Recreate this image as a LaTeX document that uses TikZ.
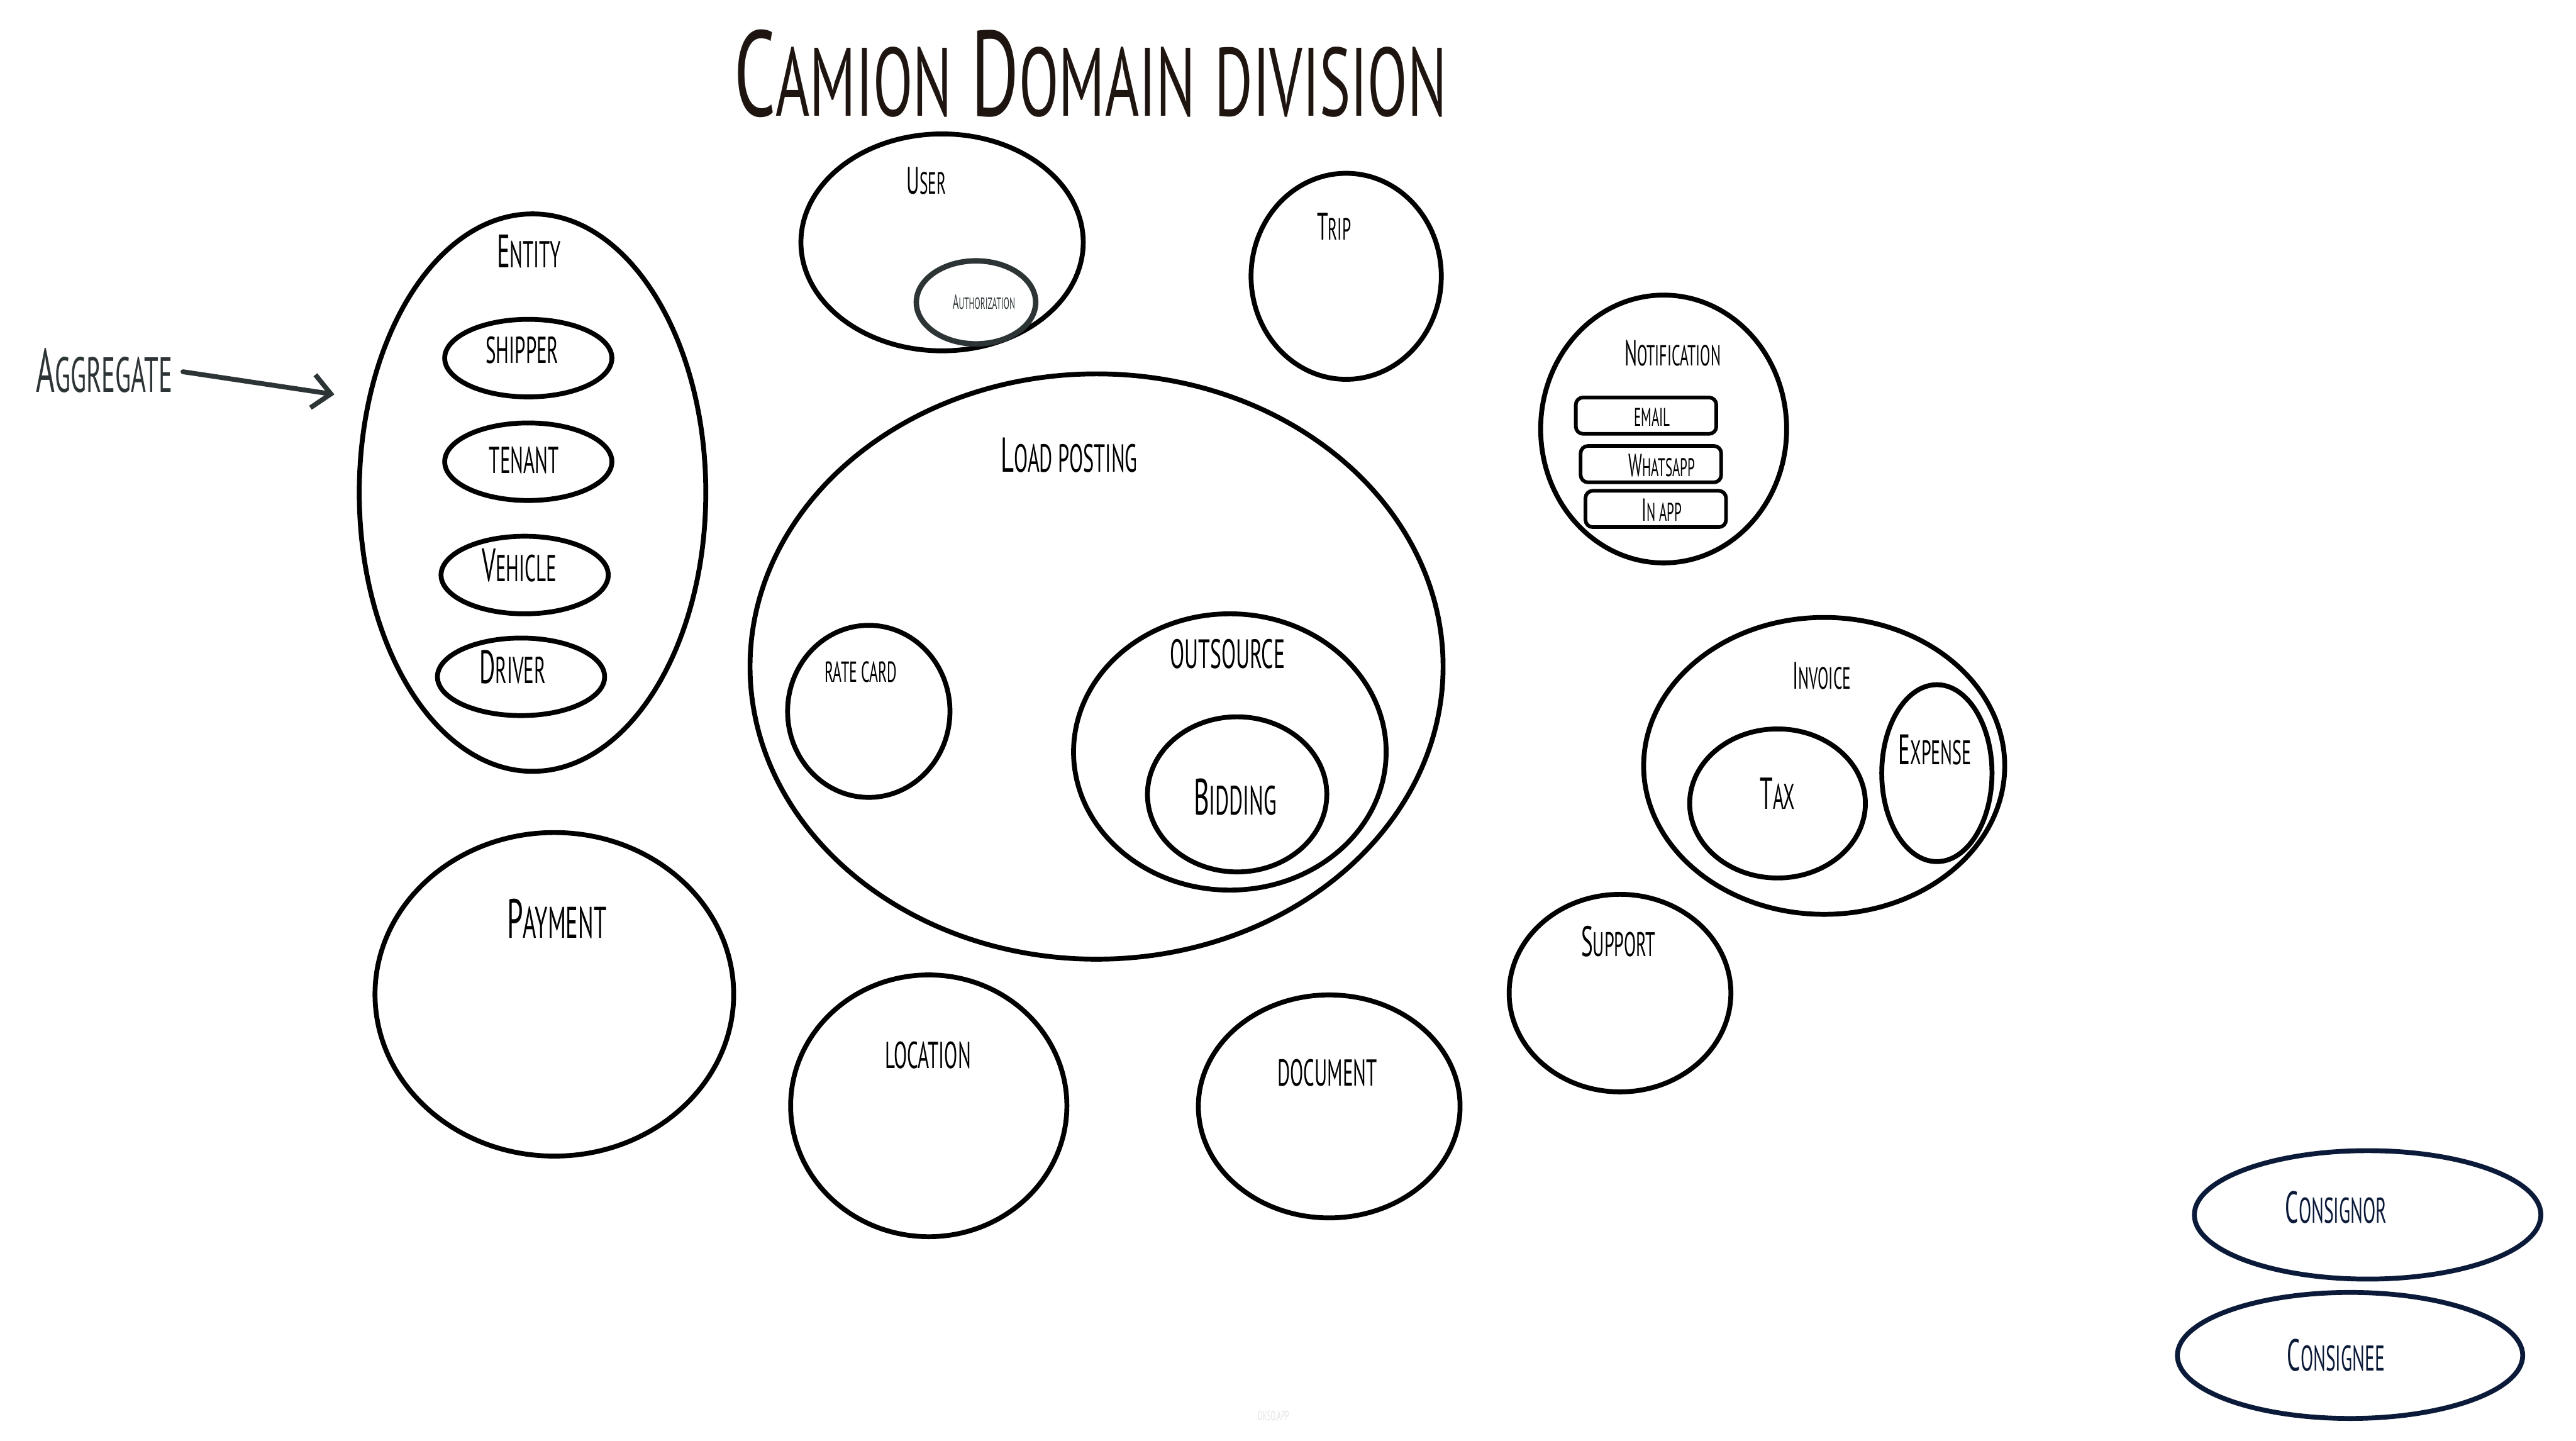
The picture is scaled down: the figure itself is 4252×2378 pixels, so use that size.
\documentclass[tikz,border=0pt]{standalone}
\usepackage{fontspec}
\setmainfont{PT Sans}[FakeStretch=0.52]
\newfontfamily\titlefont{PT Sans}[FakeStretch=0.6]
\usetikzlibrary{shapes.geometric,arrows.meta}
\newcommand\mysc[1]{\scalebox{0.8}{#1}}
\definecolor{titleink}{HTML}{1E1510}
\definecolor{slate}{HTML}{2D3436}
\definecolor{navy}{HTML}{0B1A38}
\definecolor{wm}{HTML}{E4E4E4}
\begin{document}
\begin{tikzpicture}[x=0.1mm,y=-0.1mm,
  dom/.style={draw=black, line width=0.8mm, ellipse, inner sep=0pt},
  lbl/.style={inner sep=0pt, text=black},
  fs/.style={font={\fontsize{#1pt}{#1pt}\selectfont}},
  chan/.style={draw=black, line width=0.6mm, rounded corners=1.2mm, minimum width=23.2mm, minimum height=6mm, inner sep=0pt},
]
\useasboundingbox[fill=white] (0,0) rectangle (4252,2378);

% title
\node[lbl, font={\titlefont\fontsize{57pt}{57pt}\selectfont}, text=titleink] (title) at (1800,121) {C\mysc{AMION} D\mysc{OMAIN} \mysc{DIVISION}};

% aggregate arrow
\node[lbl, fs=29, text=slate] (agg) at (172,611) {A\mysc{GGREGATE}};
\coordinate (aggtip) at (552,651);
\draw[slate, line width=0.8mm, line cap=round, shorten <=1.7mm, -{Straight Barb[length=3mm,width=5.5mm]}] (agg.east) -- (aggtip);

% entity
\node[dom, minimum width=57.2mm, minimum height=92mm] (entity) at (879,813) {};
\node[lbl, fs=22] (entityL) at (873,415) {E\mysc{NTITY}};
\node[dom, minimum width=27.6mm, minimum height=12.8mm] (shipper) at (872,591) {};
\node[lbl, fs=22] (shipperL) at (862,578) {\mysc{SHIPPER}};
\node[dom, minimum width=27.6mm, minimum height=12.8mm] (tenant) at (872,762) {};
\node[lbl, fs=22] (tenantL) at (865,759) {\mysc{TENANT}};
\node[dom, minimum width=27.6mm, minimum height=12.8mm] (vehicle) at (866,949) {};
\node[lbl, fs=22] (vehicleL) at (857,933) {V\mysc{EHICLE}};
\node[dom, minimum width=27.6mm, minimum height=12.8mm] (driver) at (860,1117) {};
\node[lbl, fs=22] (driverL) at (846,1101) {D\mysc{RIVER}};

% user
\node[dom, minimum width=46.6mm, minimum height=35.8mm] (user) at (1555,400) {};
\node[lbl, fs=18] (userL) at (1529,298) {U\mysc{SER}};
\node[dom, draw=slate, line width=0.9mm, minimum width=19.7mm, minimum height=13.7mm] (auth) at (1611,499) {};
\node[lbl, fs=9.5, text=slate] (authL) at (1624,499) {A\mysc{UTHORIZATION}};

% trip
\node[dom, minimum width=31.4mm, minimum height=34mm] (trip) at (2222,456) {};
\node[lbl, fs=18] (tripL) at (2202,374) {T\mysc{RIP}};

% notification
\node[dom, minimum width=40.6mm, minimum height=44.2mm] (notif) at (2746,708) {};
\node[lbl, fs=17] (notifL) at (2761,583) {N\mysc{OTIFICATION}};
\node[chan] (email) at (2717,686) {};
\node[lbl, fs=15] (emailL) at (2727,688) {\mysc{EMAIL}};
\node[chan] (whatsapp) at (2725,766) {};
\node[lbl, fs=15] (whatsappL) at (2743,768) {W\mysc{HATSAPP}};
\node[chan] (inapp) at (2733,840) {};
\node[lbl, fs=15] (inappL) at (2743,842) {I\mysc{N APP}};

% load posting
\node[dom, minimum width=114.4mm, minimum height=96.6mm] (load) at (1810,1100) {};
\node[lbl, fs=23] (loadL) at (1765,751) {L\mysc{OAD POSTING}};
\node[dom, minimum width=26.8mm, minimum height=28.4mm] (rate) at (1434,1174) {};
\node[lbl, fs=17] (rateL) at (1421,1109) {\mysc{RATE CARD}};
\node[dom, minimum width=51.6mm, minimum height=45.6mm] (outs) at (2030,1241) {};
\node[lbl, fs=24] (outsL) at (2026,1079) {\mysc{OUTSOURCE}};
\node[dom, minimum width=29.6mm, minimum height=25.6mm] (bid) at (2042,1311) {};
\node[lbl, fs=24] (bidL) at (2039,1315) {B\mysc{IDDING}};

% invoice
\node[dom, minimum width=59.6mm, minimum height=49mm] (invoice) at (3011,1264) {};
\node[lbl, fs=18] (invoiceL) at (3007,1115) {I\mysc{NVOICE}};
\node[dom, minimum width=29mm, minimum height=24.6mm] (tax) at (2934,1326) {};
\node[lbl, fs=21] (taxL) at (2934,1310) {T\mysc{AX}};
\node[dom, minimum width=18.2mm, minimum height=29.2mm] (expense) at (3197,1276) {};
\node[lbl, fs=20] (expenseL) at (3194,1237) {E\mysc{XPENSE}};

% support
\node[dom, minimum width=36.6mm, minimum height=32.6mm] (support) at (2674,1639) {};
\node[lbl, fs=20] (supportL) at (2671,1554) {S\mysc{UPPORT}};

% payment
\node[dom, minimum width=59.2mm, minimum height=53.4mm] (payment) at (915,1641) {};
\node[lbl, fs=26] (paymentL) at (919,1516) {P\mysc{AYMENT}};

% location
\node[dom, minimum width=45.6mm, minimum height=43.2mm] (location) at (1533,1825) {};
\node[lbl, fs=22] (locationL) at (1532,1741) {\mysc{LOCATION}};

% document
\node[dom, minimum width=43.2mm, minimum height=36.8mm] (document) at (2194,1826) {};
\node[lbl, fs=22] (documentL) at (2191,1771) {\mysc{DOCUMENT}};

% consignor / consignee
\node[dom, draw=navy, minimum width=57.2mm, minimum height=21.2mm] (consignor) at (3908,2005) {};
\node[lbl, fs=21, text=navy] (consignorL) at (3856,1993) {C\mysc{ONSIGNOR}};
\node[dom, draw=navy, minimum width=57mm, minimum height=20.8mm] (consignee) at (3879,2237) {};
\node[lbl, fs=21, text=navy] (consigneeL) at (3856,2237) {C\mysc{ONSIGNEE}};

% watermark
\node[lbl, fs=8, text=wm] (okso) at (2102,2337) {\mysc{OKSO.APP}};
\end{tikzpicture}
\end{document}
